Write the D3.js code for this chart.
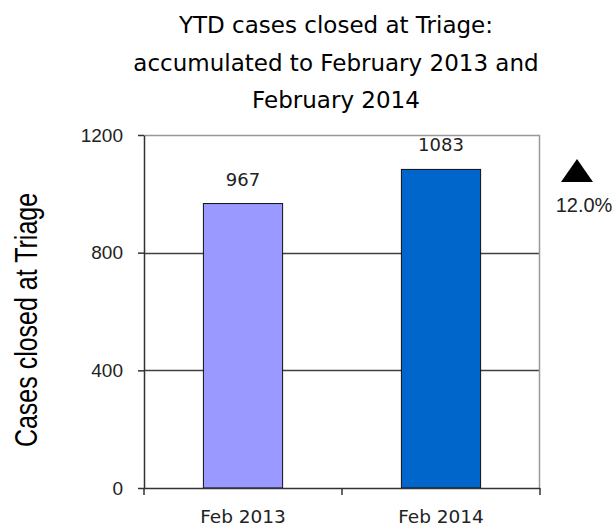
<!DOCTYPE html>
<html>
<head>
<meta charset="utf-8">
<script src="https://cdn.jsdelivr.net/npm/d3@7"></script>
<style>
  body { margin: 0; background: #fff; }
  svg { display: block; }
</style>
</head>
<body>
<div id="chart"></div>
<script>
// chart data
var categories = ["Feb 2013", "Feb 2014"];
var values = [967, 1083];
var barColors = ["#9999ff", "#0066cc"];
var yTicks = [0, 400, 800, 1200];
var titleLines = ["YTD cases closed at Triage:", "accumulated to February 2013 and", "February 2014"];
var changeLabel = "12.0%";

var width = 616, height = 529;
var margin = { top: 135, right: 76, bottom: 41, left: 144 };
var plotW = width - margin.left - margin.right,
    plotH = height - margin.top - margin.bottom;

var svg = d3.select("#chart").append("svg")
    .attr("width", width)
    .attr("height", height);

// title
svg.append("g").selectAll("text")
    .data(titleLines)
    .enter().append("text")
    .attr("x", 336)
    .attr("y", function(d, i) { return 33 + i * 37.5; })
    .attr("text-anchor", "middle")
    .style("font-family", "DejaVu Sans")
    .style("font-size", "23px")
    .attr("fill", "#000")
    .text(function(d) { return d; });

// y axis title (the original is drawn a bit stretched across)
svg.append("text")
    .attr("transform", "translate(37," + (margin.top + 185) + ") rotate(-90) scale(1,1.25)")
    .attr("text-anchor", "middle")
    .style("font-family", "Liberation Sans")
    .style("font-size", "25px")
    .attr("fill", "#000")
    .text("Cases closed at Triage");

var g = svg.append("g")
    .attr("transform", "translate(" + margin.left + "," + margin.top + ")");

var x = d3.scaleBand()
    .domain(categories)
    .range([0, plotW])
    .paddingInner(0.6)
    .paddingOuter(0.3);

var y = d3.scaleLinear()
    .domain([0, 1200])
    .range([plotH, 0]);

// gridlines
g.append("g").selectAll("line")
    .data(yTicks.filter(function(d) { return d > 0 && d < 1200; }))
    .enter().append("line")
    .attr("x1", 0).attr("x2", plotW)
    .attr("y1", function(d) { return Math.round(y(d)) + 0.5; })
    .attr("y2", function(d) { return Math.round(y(d)) + 0.5; })
    .attr("stroke", "#404040")
    .attr("stroke-width", 1.3);

// top and right border
g.append("path")
    .attr("d", "M0.5,0.5H" + (plotW - 0.5) + "V" + plotH)
    .attr("fill", "none")
    .attr("stroke", "#999")
    .attr("stroke-width", 1.5);

// bars
g.append("g").selectAll("rect")
    .data(values)
    .enter().append("rect")
    .attr("x", function(d, i) { return x(categories[i]); })
    .attr("y", function(d) { return y(d); })
    .attr("width", x.bandwidth())
    .attr("height", function(d) { return plotH - y(d); })
    .attr("fill", function(d, i) { return barColors[i]; })
    .attr("stroke", "#111")
    .attr("stroke-width", 1);

// value labels
g.append("g").selectAll("text")
    .data(values)
    .enter().append("text")
    .attr("x", function(d, i) { return x(categories[i]) + x.bandwidth() / 2; })
    .attr("y", function(d) { return y(d) - 18; })
    .attr("text-anchor", "middle")
    .style("font-family", "DejaVu Sans")
    .style("font-size", "18px")
    .attr("fill", "#222")
    .text(function(d) { return d; });

// y axis
var yAxis = g.append("g")
    .call(d3.axisLeft(y).tickValues(yTicks).tickFormat(d3.format("d"))
      .tickSize(6).tickPadding(15).tickSizeOuter(0));
yAxis.select(".domain").attr("stroke", "#333").attr("stroke-width", 1.5);
yAxis.selectAll(".tick line").attr("stroke", "#333").attr("stroke-width", 1.5);
yAxis.selectAll(".tick text")
    .style("font-family", "Liberation Sans")
    .style("font-size", "19px")
    .attr("fill", "#222");

// x axis: ticks on category boundaries, labels at band centres
var xAxis = g.append("g").attr("transform", "translate(0," + plotH + ")");
xAxis.append("line")
    .attr("x1", 0).attr("x2", plotW)
    .attr("y1", 0.5).attr("y2", 0.5)
    .attr("stroke", "#333").attr("stroke-width", 1.5);
xAxis.selectAll(".xt")
    .data(d3.range(categories.length + 1))
    .enter().append("line")
    .attr("class", "xt")
    .attr("x1", function(i) { return i * x.step(); })
    .attr("x2", function(i) { return i * x.step(); })
    .attr("y1", 0).attr("y2", 7)
    .attr("stroke", "#333").attr("stroke-width", 1.5);
xAxis.selectAll(".xl")
    .data(categories)
    .enter().append("text")
    .attr("class", "xl")
    .attr("x", function(d) { return x(d) + x.bandwidth() / 2; })
    .attr("y", 35)
    .attr("text-anchor", "middle")
    .style("font-family", "DejaVu Sans")
    .style("font-size", "18.5px")
    .attr("fill", "#222")
    .text(function(d) { return d; });

// change indicator
var tri = d3.line()([[561, 182], [577, 159], [593, 182]]) + "Z";
svg.append("path")
    .attr("d", tri)
    .attr("fill", "#000");
svg.append("text")
    .attr("x", 584)
    .attr("y", 212)
    .attr("text-anchor", "middle")
    .style("font-family", "Liberation Sans")
    .style("font-size", "20px")
    .attr("fill", "#222")
    .text(changeLabel);
</script>
</body>
</html>
